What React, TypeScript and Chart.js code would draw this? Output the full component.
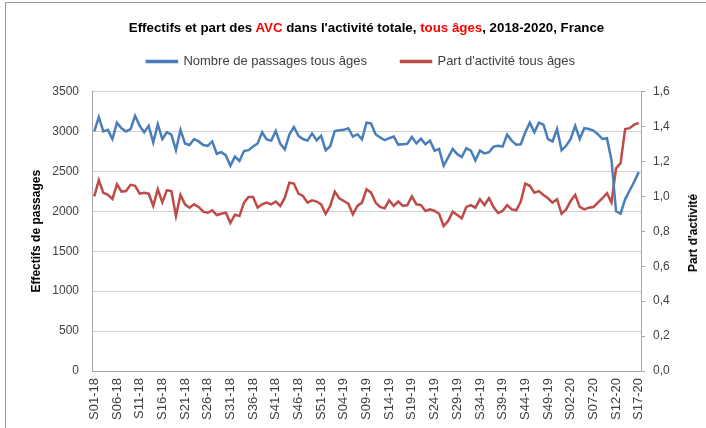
import React, { useEffect, useRef } from 'react';
import { Chart, registerables } from 'chart.js';

Chart.register(...registerables);

// Week categories: 2018 and 2019 have 52 weeks, 2020 goes up to week 17
const years = ['18', '19', '20'];
const weeksPerYear = [52, 52, 17];
const weekLabels: string[] = [];
years.forEach((y, k) => {
  for (let w = 1; w <= weeksPerYear[k]; w++) {
    weekLabels.push('S' + String(w).padStart(2, '0') + '-' + y);
  }
});

const passages = [
  3000, 3180, 3000, 3020, 2905, 3110, 3040, 3000, 3030, 3195,
  3070, 2990, 3070, 2860, 3090, 2905, 2990, 2960, 2765, 3020,
  2850, 2830, 2905, 2875, 2830, 2820, 2875, 2720, 2740, 2700,
  2570, 2685, 2630, 2755, 2765, 2810, 2850, 2990, 2900, 2885,
  3005, 2845, 2775, 2960, 3055, 2945, 2905, 2885, 2975, 2890,
  2945, 2765, 2815, 3005, 3015, 3020, 3040, 2935, 2965, 2900,
  3110, 3100, 2965, 2925, 2890, 2915, 2935, 2835, 2840, 2845,
  2930, 2850, 2910, 2840, 2885, 2760, 2780, 2570, 2675, 2780,
  2715, 2680, 2790, 2760, 2635, 2760, 2725, 2740, 2810, 2820,
  2810, 2960, 2885, 2835, 2840, 2990, 3110, 2990, 3110, 3085,
  2905, 2875, 3030, 2765, 2820, 2905, 3070, 2905, 3040, 3030,
  3010, 2965, 2905, 2915, 2640, 2000, 1970, 2150, 2260, 2370,
  2490,
];

const partActivite = [
  1.0, 1.093, 1.02, 1.008, 0.985, 1.069, 1.027, 1.03, 1.066, 1.06,
  1.015, 1.02, 1.015, 0.945, 1.04, 0.965, 1.034, 1.03, 0.887, 1.008,
  0.954, 0.935, 0.954, 0.939, 0.912, 0.906, 0.92, 0.893, 0.9, 0.906,
  0.848, 0.895, 0.887, 0.964, 0.996, 0.996, 0.935, 0.954, 0.964, 0.954,
  0.97, 0.945, 0.992, 1.078, 1.073, 1.015, 1.002, 0.964, 0.977, 0.97,
  0.954, 0.9, 0.945, 1.027, 0.989, 0.973, 0.958, 0.897, 0.945, 0.964,
  1.04, 1.021, 0.964, 0.939, 0.931, 0.977, 0.945, 0.97, 0.945, 0.95,
  1.0, 0.954, 0.95, 0.916, 0.925, 0.916, 0.9, 0.83, 0.859, 0.912,
  0.893, 0.874, 0.939, 0.95, 0.935, 0.983, 0.95, 0.989, 0.939, 0.905,
  0.916, 0.95, 0.925, 0.92, 0.97, 1.073, 1.06, 1.021, 1.03, 1.008,
  0.989, 0.964, 0.983, 0.9, 0.925, 0.973, 1.008, 0.939, 0.925, 0.935,
  0.939, 0.964, 0.989, 1.018, 0.965, 1.16, 1.19, 1.385, 1.39, 1.41,
  1.42,
];

const leftTicks = [0, 500, 1000, 1500, 2000, 2500, 3000, 3500];
const rightTicks = [0, 0.2, 0.4, 0.6, 0.8, 1.0, 1.2, 1.4, 1.6];

const seriesNames = ['Nombre de passages tous âges', "Part d'activité tous âges"];
const FONT = "'Liberation Sans', Arial, sans-serif";

export default function App() {
  const ref = useRef<HTMLCanvasElement | null>(null);

  useEffect(() => {
    if (!ref.current) return;
    const chart = new Chart(ref.current, {
      type: 'line',
      data: {
        labels: weekLabels,
        datasets: [
          {
            label: seriesNames[0],
            data: passages,
            borderColor: '#4a7ebb',
            backgroundColor: '#4a7ebb',
            borderWidth: 2.5,
            pointRadius: 0,
            tension: 0,
            yAxisID: 'y',
          },
          {
            label: seriesNames[1],
            data: partActivite,
            borderColor: '#be4b48',
            backgroundColor: '#be4b48',
            borderWidth: 2.5,
            pointRadius: 0,
            tension: 0,
            yAxisID: 'y1',
          },
        ],
      },
      options: {
        responsive: false,
        animation: false,
        layout: { padding: { top: 21, left: 16, right: 0, bottom: 0 } },
        plugins: {
          tooltip: { enabled: false },
          title: { display: false },
          legend: {
            position: 'top',
            labels: {
              boxWidth: 30,
              boxHeight: 1,
              padding: 34,
              color: '#404040',
              font: { family: FONT, size: 13 },
            },
          },
        },
        scales: {
          x: {
            offset: true,
            grid: { display: false, drawTicks: false },
            border: { display: true, color: '#a6a6a6', width: 1 },
            ticks: {
              autoSkip: false,
              minRotation: 90,
              maxRotation: 90,
              padding: 7,
              color: '#404040',
              font: { family: FONT, size: 13 },
              callback: (_v: any, i: number) => (i % 5 === 0 ? weekLabels[i] : ''),
            },
            afterFit: (s: any) => { s.height = 57; },
          },
          spacer: {
            type: 'category',
            position: 'top',
            display: true,
            grid: { display: false, drawTicks: false },
            border: { display: false },
            ticks: { display: false },
            afterFit: (s: any) => { s.height = 13.5; },
          },
          y: {
            position: 'left',
            min: 0,
            max: 3500,
            afterBuildTicks: (s: any) => { s.ticks = leftTicks.map((v) => ({ value: v })); },
            grid: { color: '#d0d0d0', lineWidth: 1, drawTicks: false },
            border: { display: true, color: '#a6a6a6', width: 1 },
            ticks: {
              padding: 13,
              color: '#404040',
              font: { family: FONT, size: 12 },
              callback: (v: any) => String(v),
            },
            title: {
              display: true,
              text: 'Effectifs de passages',
              color: '#000',
              font: { family: FONT, size: 12, weight: 'bold' },
              padding: { top: 13, bottom: 0 },
            },
            afterFit: (s: any) => { s.width = 76; },
          },
          y1: {
            position: 'right',
            min: 0,
            max: 1.6,
            afterBuildTicks: (s: any) => { s.ticks = rightTicks.map((v) => ({ value: v })); },
            grid: { drawOnChartArea: false, drawTicks: true, tickLength: 4, color: '#a6a6a6' },
            border: { display: true, color: '#a6a6a6', width: 1 },
            ticks: {
              padding: 8,
              color: '#404040',
              font: { family: FONT, size: 12 },
              callback: (v: any) => Number(v).toFixed(1).replace('.', ','),
            },
            afterFit: (s: any) => { s.width = 65; },
          },
        },
      },
    });
    return () => chart.destroy();
  }, []);

  return (
    <div style={{ position: 'absolute', left: 0, top: 0, width: 706, height: 428, background: '#fff', overflow: 'hidden' }}>
      <div style={{ position: 'absolute', left: 5, top: 2, width: 701, height: 426, borderLeft: '1px solid #999', borderTop: '1px solid #999' }} />
      <canvas ref={ref} width={706} height={428} style={{ position: 'absolute', left: 0, top: 0, width: 706, height: 428 }} />
      <div style={{ position: 'absolute', left: 92, width: 549, top: 20, textAlign: 'center', fontFamily: FONT, fontWeight: 'bold', fontSize: 13.3, lineHeight: '16px', color: '#000', whiteSpace: 'nowrap' }}>
        Effectifs et part des <span style={{ color: '#ff0000' }}>AVC</span> dans l'activité totale, <span style={{ color: '#ff0000' }}>tous âges</span>, 2018-2020, France
      </div>
      <div style={{ position: 'absolute', left: 693, top: 233, transform: 'translate(-50%, -50%) rotate(-90deg)', fontFamily: FONT, fontWeight: 'bold', fontSize: 12, lineHeight: '14px', color: '#000', whiteSpace: 'nowrap' }}>
        Part d'activité
      </div>
    </div>
  );
}
